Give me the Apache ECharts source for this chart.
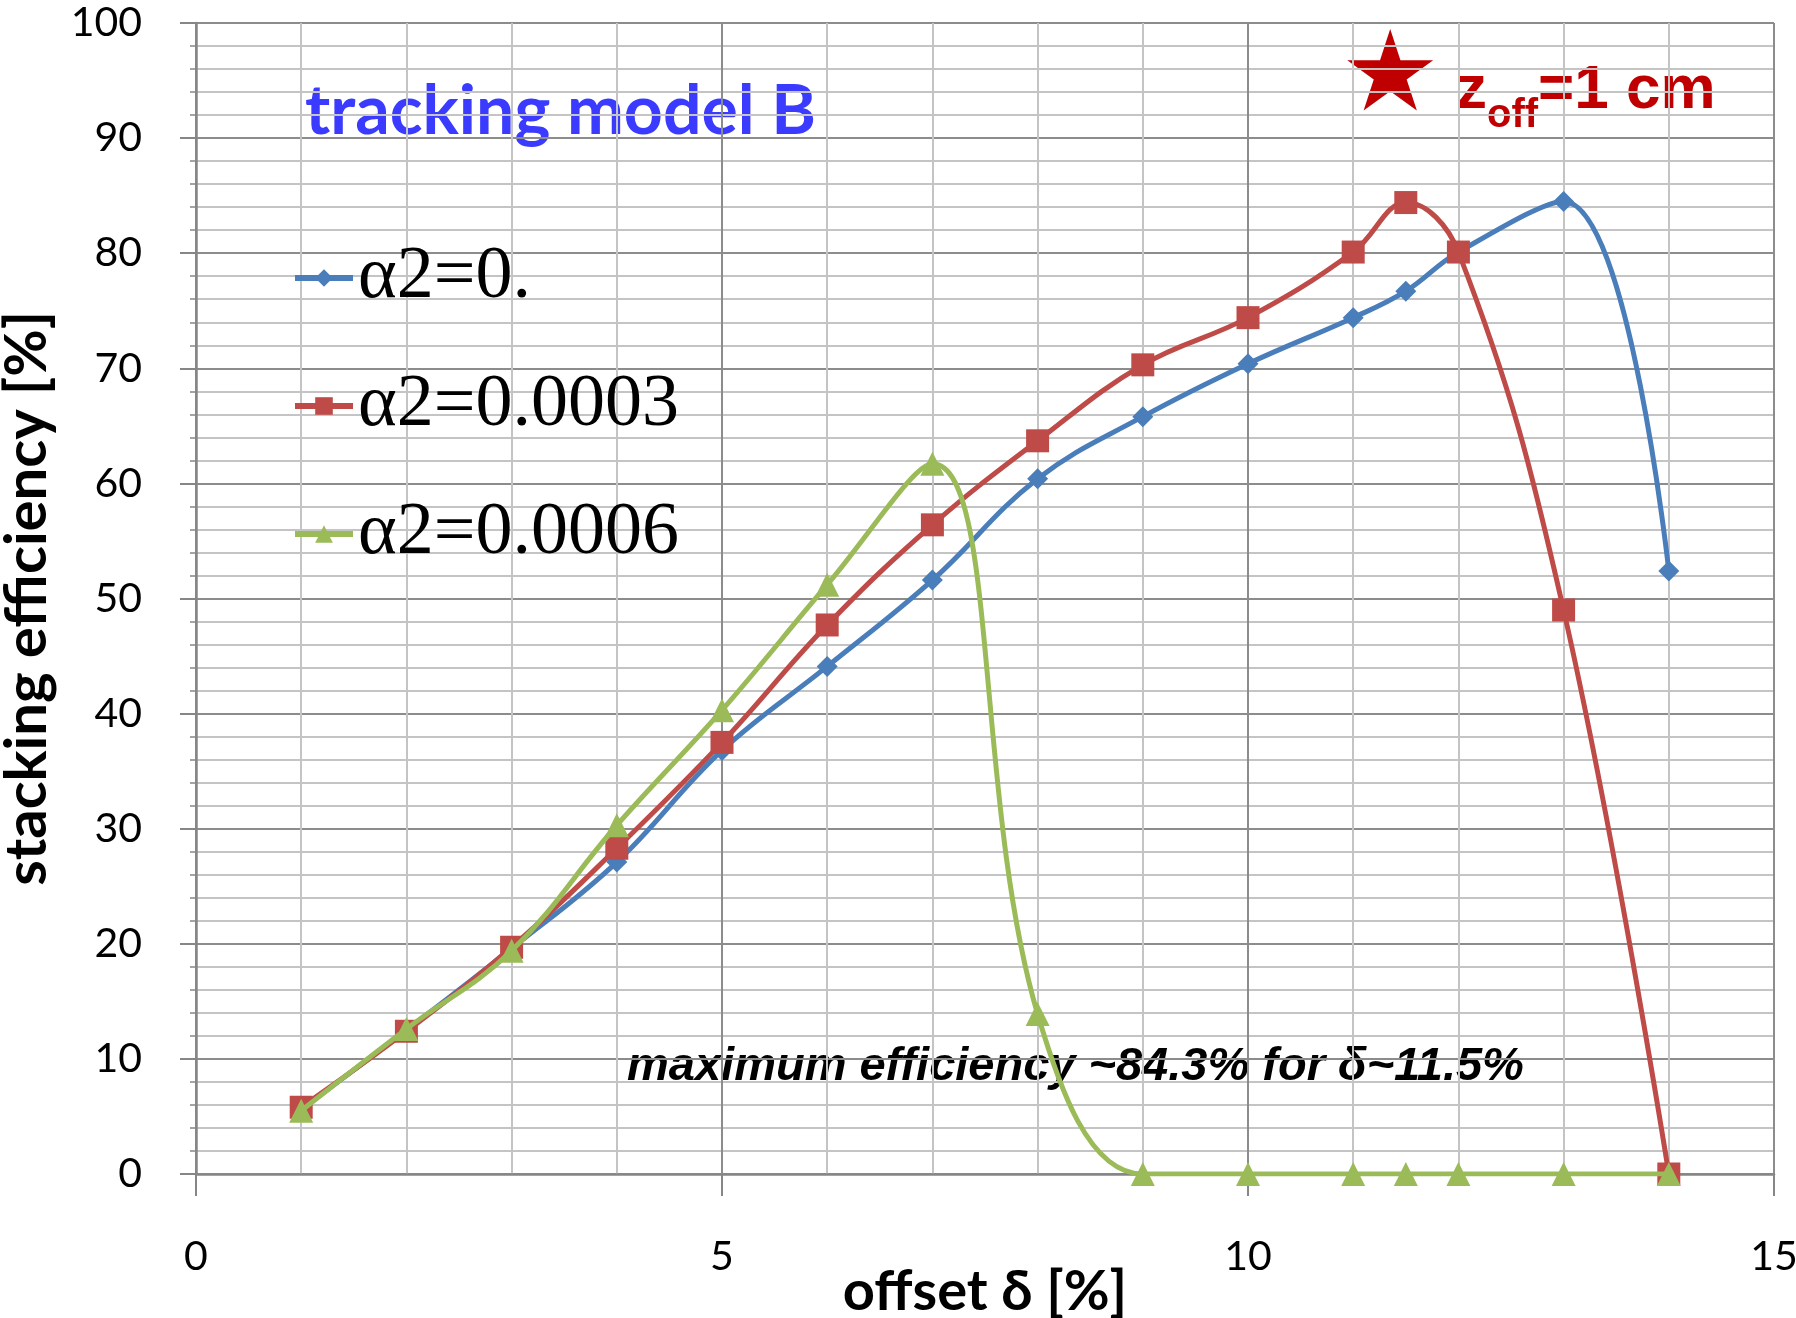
<!DOCTYPE html>
<html lang="en">
<head>
    <meta charset="utf-8">
    <title>stacking efficiency</title>
    <script src="https://cdn.jsdelivr.net/npm/echarts@6/dist/echarts.min.js"></script>
    <style>
        html, body { margin: 0; padding: 0; background: #fff; }
    </style>
</head>
<body>
<div id="main" style="width:1796px;height:1318px;"></div>
<script type="text/javascript">
    // offset delta [%]
    var offsets = [1, 2, 3, 4, 5, 6, 7, 8, 9, 10, 11, 11.5, 12, 13, 14];
    // stacking efficiency [%] per alpha2
    var eff0 = [5.6, 12.5, 19.6, 27.1, 36.8, 44.1, 51.6, 60.4, 65.8, 70.4, 74.4, 76.7, 80.1, 84.5, 52.4];
    var eff3 = [5.8, 12.4, 19.7, 28.3, 37.5, 47.7, 56.4, 63.7, 70.3, 74.4, 80.1, 84.4, 80.1, 49.0, 0];
    var eff6 = [5.5, 12.6, 19.4, 30.3, 40.3, 51.2, 61.7, 13.9, 0, 0, 0, 0, 0, 0, 0];
    var names = ['\u03b12=0.', '\u03b12=0.0003', '\u03b12=0.0006'];
    var xTicks = [0, 5, 10, 15];
    var yTicks = [0, 10, 20, 30, 40, 50, 60, 70, 80, 90, 100];

    function pairs(ys) {
        return offsets.map(function (x, i) { return [x, ys[i]]; });
    }

    var serif = "'Liberation Serif', 'DejaVu Serif', serif";

    var myChart = echarts.init(document.getElementById('main'));
    myChart.setOption({
        backgroundColor: '#ffffff',
        animation: false,
        grid: { left: 196, right: 22, top: 23, bottom: 144, outerBoundsMode: 'none', containLabel: false },
        legend: {
            orient: 'vertical',
            left: 287,
            top: 236,
            itemWidth: 58,
            itemHeight: 22,
            itemGap: 54,
            lineStyle: { width: 6 },
            textStyle: {
                fontFamily: serif,
                fontSize: 74,
                color: '#000'
            },
            data: names
        },
        xAxis: {
            type: 'value',
            min: xTicks[0],
            max: xTicks[xTicks.length - 1],
            interval: 5,
            name: 'offset \u03b4 [%]',
            nameLocation: 'middle',
            nameGap: 90,
            nameMoveOverlap: false,
            nameTextStyle: { fontFamily: 'Lato', fontWeight: 'bold', fontSize: 56, color: '#000' },
            axisLine: { show: true, onZero: false, lineStyle: { color: '#868686', width: 2.5 } },
            axisTick: { show: true, length: 22, inside: false, lineStyle: { color: '#868686', width: 2 } },
            minorTick: { show: false, splitNumber: 5 },
            axisLabel: { margin: 62, fontFamily: 'Lato', fontSize: 41, color: '#000' },
            splitLine: { show: true, lineStyle: { color: '#8c8c8c', width: 2 } },
            minorSplitLine: { show: true, lineStyle: { color: '#c4c4c4', width: 2 } }
        },
        yAxis: {
            type: 'value',
            min: yTicks[0],
            max: yTicks[yTicks.length - 1],
            interval: 10,
            name: 'stacking efficiency [%]',
            nameLocation: 'middle',
            nameGap: 140,
            nameMoveOverlap: false,
            nameTextStyle: { fontFamily: 'Lato', fontWeight: 'bold', fontSize: 58, color: '#000' },
            axisLine: { show: true, lineStyle: { color: '#868686', width: 2.5 } },
            axisTick: { show: true, length: 16, lineStyle: { color: '#868686', width: 2 } },
            minorTick: { show: true, splitNumber: 5, length: 6, lineStyle: { color: '#868686', width: 1.5 } },
            axisLabel: { margin: 54, fontFamily: 'Lato', fontSize: 41, color: '#000' },
            splitLine: { show: true, lineStyle: { color: '#8c8c8c', width: 2 } },
            minorSplitLine: { show: true, lineStyle: { color: '#c4c4c4', width: 2 } }
        },
        series: [
            {
                name: names[0],
                type: 'line',
                smooth: 0.4,
                data: pairs(eff0),
                symbol: 'diamond',
                symbolSize: 21,
                z: 3,
                itemStyle: { color: '#4a7ebb' },
                lineStyle: { color: '#4a7ebb', width: 5 }
            },
            {
                name: names[1],
                type: 'line',
                smooth: 0.4,
                data: pairs(eff3),
                symbol: 'rect',
                symbolSize: 23,
                z: 4,
                itemStyle: { color: '#be4b48' },
                lineStyle: { color: '#be4b48', width: 5 }
            },
            {
                name: names[2],
                type: 'line',
                smooth: 0.4,
                data: pairs(eff6),
                symbol: 'triangle',
                symbolSize: 24,
                z: 5,
                itemStyle: { color: '#9bbb59' },
                lineStyle: { color: '#9bbb59', width: 5 }
            }
        ],
        graphic: [
            {
                type: 'text',
                left: 305,
                top: 78,
                style: {
                    text: 'tracking model B',
                    font: 'bold 68px Lato',
                    fill: '#3b3bff'
                }
            },
            {
                type: 'text',
                left: 1340,
                top: 25,
                style: {
                    text: '\u2605',
                    font: '112px "DejaVu Sans"',
                    fill: '#c00000'
                }
            },
            {
                type: 'text',
                left: 1456,
                top: 60,
                style: {
                    text: '{a|z}{b|off}{a|=1 cm}',
                    rich: {
                        a: { font: 'bold 62px "Liberation Sans Narrow", "Liberation Sans"', fill: '#c00000', verticalAlign: 'bottom' },
                        b: { font: 'bold 40px "Liberation Sans Narrow", "Liberation Sans"', fill: '#c00000', verticalAlign: 'bottom', padding: [0, 0, -14, 0] }
                    }
                }
            },
            {
                type: 'text',
                left: 627,
                top: 1044,
                style: {
                    text: 'maximum efficiency ~84.3% for \u03b4~11.5%',
                    font: 'italic bold 47px "Liberation Sans"',
                    fill: '#000'
                }
            }
        ]
    });
</script>
</body>
</html>
